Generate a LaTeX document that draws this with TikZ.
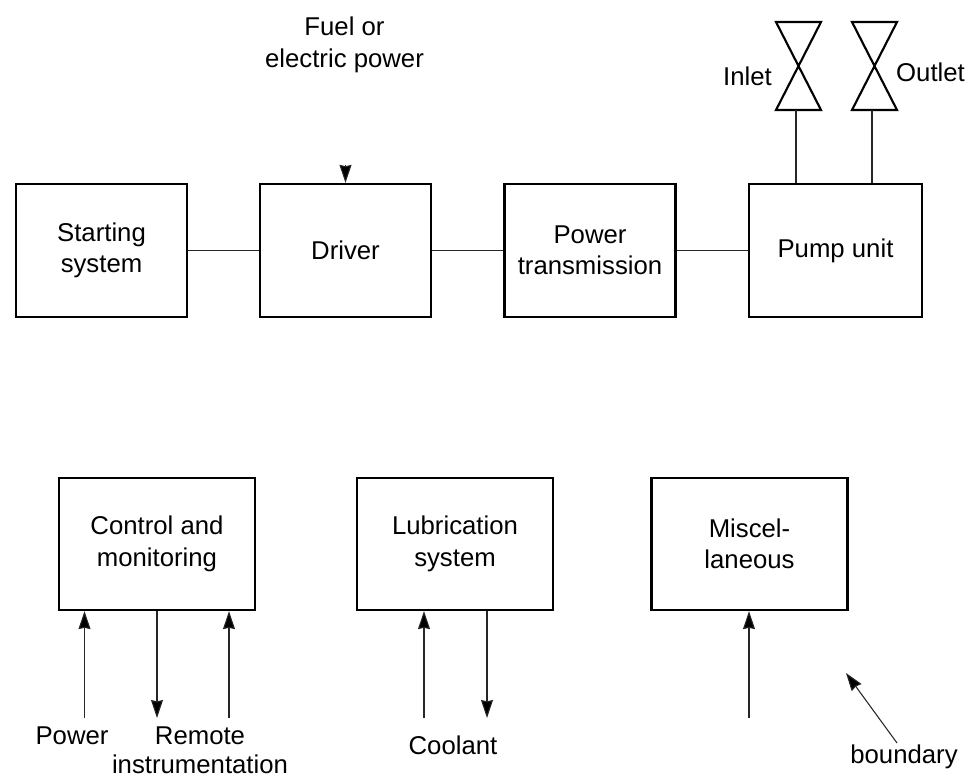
\documentclass[tikz,border=0pt]{standalone}
\usepackage{fontspec}
\setmainfont{Liberation Sans}
\usetikzlibrary{arrows.meta,calc}
\tikzset{
  x=0.75pt,y=-0.75pt,
  box/.style={draw,line width=1.7pt,inner sep=0pt,align=center,font=\fontsize{19.3pt}{23.5pt}\selectfont},
  topbox/.style={box,minimum width=128.25pt,minimum height=99.75pt},
  lowbox/.style={box,minimum width=147pt,minimum height=99pt},
  lbl/.style={inner sep=0pt,align=center,font=\fontsize{19.3pt}{23.5pt}\selectfont},
  thin line/.style={line width=0.8pt,draw=black!85},
  valve/.style={line width=1.6pt,line join=miter},
  tip/.style={thin line,-{Stealth[length=13.5pt,width=9pt,inset=1pt,fill=black]}},
}
\begin{document}
\begin{tikzpicture}
\useasboundingbox (0,0) rectangle (967,777);
% top row
\node[topbox] (start) at (101.5,250.5) {Starting\\system};
\node[topbox] (driver) at (345.5,250.5) {Driver};
\node[topbox] (trans) at (590,250.5) {Power\\transmission};
\node[topbox,minimum width=129.75pt] (pump) at (835.5,250.5) {Pump unit};
\draw[thin line] (start) -- (driver);
\draw[thin line] (driver) -- (trans);
\draw[thin line] (trans) -- (pump);
% fuel
\node[lbl] (fuel) at (344.5,45) {Fuel or\\electric power};
\coordinate (fueltail) at (345.5,165);
\draw[tip] (fueltail) -- (driver.north);
% valves
\coordinate (inT) at (798.5,66);
\coordinate (outT) at (874.5,66);
\draw[valve] ($(inT)+(-22.5,-44)$) -- ($(inT)+(22.5,-44)$) -- ($(inT)+(-22.5,44)$) -- ($(inT)+(22.5,44)$) -- cycle;
\draw[valve] ($(outT)+(-22.5,-44)$) -- ($(outT)+(22.5,-44)$) -- ($(outT)+(-22.5,44)$) -- ($(outT)+(22.5,44)$) -- cycle;
\coordinate (inS) at (796,110);
\coordinate (outS) at (872,110);
\draw[thin line] (inS) -- (inS |- pump.north);
\draw[thin line] (outS) -- (outS |- pump.north);
\node[lbl] (inlet) at (747.5,76) {Inlet};
\node[lbl] (outlet) at (930.5,72) {Outlet};
% lower row
\node[lowbox] (ctrl) at (157,544) {Control and\\monitoring};
\node[lowbox] (lube) at (455,544) {Lubrication\\system};
\node[lowbox] (misc) at (749.5,544) {Miscel-\\laneous};
% control arrows
\coordinate (a1) at (84.5,718);
\coordinate (a2) at (157,718);
\coordinate (a3) at (229,718);
\draw[tip] (a1) -- (a1 |- ctrl.south);
\draw[tip] (a2 |- ctrl.south) -- (a2);
\draw[tip] (a3) -- (a3 |- ctrl.south);
\node[lbl] (power) at (72,736) {Power};
\node[lbl] (remote) at (200,736) {Remote};
\node[lbl] (instr) at (200,764) {instrumentation};
% lube arrows
\coordinate (b1) at (424,718);
\coordinate (b2) at (487,718);
\draw[tip] (b1) -- (b1 |- lube.south);
\draw[tip] (b2 |- lube.south) -- (b2);
\node[lbl] (coolant) at (453,745) {Coolant};
% misc arrow
\coordinate (c1) at (749,718);
\draw[tip] (c1) -- (c1 |- misc.south);
% boundary
\node[lbl] (bound) at (904,757) {boundary};
\coordinate (btail) at (897,743);
\coordinate (bhead) at (846,673);
\draw[tip] (btail) -- (bhead);
\end{tikzpicture}
\end{document}
